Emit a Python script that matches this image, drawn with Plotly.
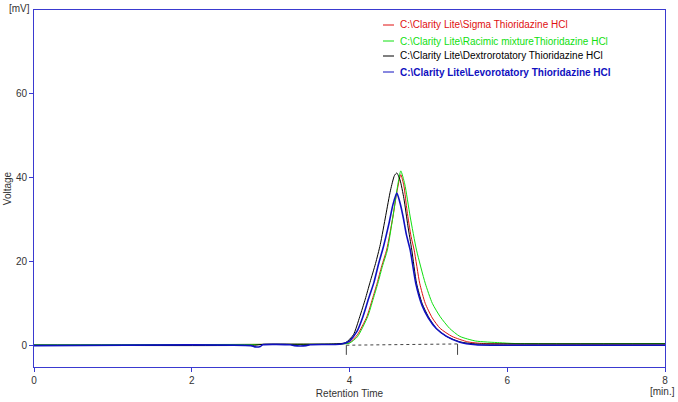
import plotly.graph_objects as go

# ---- data ----
red_x = [0, 2.9, 3.9, 4.0, 4.1, 4.22, 4.29, 4.35, 4.41, 4.47, 4.55, 4.6, 4.65, 4.69, 4.73, 4.78, 4.82, 4.89, 4.96, 5.05, 5.15, 5.3, 5.5, 5.7, 8]
red_y = [0.0, 0.2, 0.3, 0.6, 2.5, 6.8, 11, 14.8, 19, 22.7, 30.6, 36.5, 40.7, 38, 32, 26, 22.7, 14.8, 10, 6.5, 4, 2.1, 0.8, 0.4, 0.3]

green_x = [0, 2.9, 3.9, 4.0, 4.1, 4.23, 4.30, 4.36, 4.42, 4.48, 4.55, 4.61, 4.65, 4.70, 4.77, 4.85, 4.96, 5.05, 5.15, 5.27, 5.40, 5.6, 5.9, 6.1, 8]
green_y = [0.1, 0.2, 0.3, 0.5, 2.0, 6.8, 11, 14.8, 19, 22.7, 30.6, 38, 41.6, 38.5, 30.6, 22.7, 14.8, 10, 6.8, 4, 2.1, 1.0, 0.6, 0.4, 0.4]

black_x = [0, 2.8, 2.9, 3.8, 3.95, 4.05, 4.13, 4.2, 4.26, 4.33, 4.39, 4.46, 4.52, 4.57, 4.60, 4.64, 4.69, 4.74, 4.79, 4.85, 4.92, 5.0, 5.1, 5.23, 5.4, 5.6, 6, 8]
black_y = [0.0, 0.0, 0.2, 0.3, 0.6, 2.5, 6.8, 11, 15, 19.5, 24, 31, 37, 40.5, 41.1, 39.5, 35, 28.5, 22.7, 14.8, 10, 6.8, 4, 2.1, 0.8, 0.3, 0.3, 0.3]

blue_x = [0, 2.75, 2.8, 2.87, 2.9, 3.25, 3.3, 3.45, 3.5, 3.9, 4.0, 4.1, 4.17, 4.24, 4.31, 4.37, 4.43, 4.5, 4.55, 4.60, 4.64, 4.68, 4.72, 4.77, 4.84, 4.92, 5.0, 5.1, 5.23, 5.4, 5.6, 5.8, 6, 8]
blue_y = [-0.1, -0.1, -0.4, -0.3, 0.1, 0.1, -0.1, -0.1, 0.1, 0.3, 1.0, 3.5, 6.8, 11, 15, 19.5, 23.5, 29, 33.5, 36.3, 34, 30.6, 26.5, 22.7, 14.8, 9.5, 6.5, 4, 2.1, 0.7, 0.1, 0.0, 0.0, 0.0]

peak_base_x = [3.96, 4.85, 5.37]
peak_base_y = [0.0, 0.2, 0.3]
peak_marker_low = -2.3

names = [
    "C:\\Clarity Lite\\Sigma Thioridazine HCl",
    "C:\\Clarity Lite\\Racimic mixtureThioridazine HCl",
    "C:\\Clarity Lite\\Dextrorotatory Thioridazine HCl",
    "C:\\Clarity Lite\\Levorotatory Thioridazine HCl",
]
colors = ["#e01010", "#10e010", "#000000", "#1010c0"]
widths = [1, 1, 1, 1.6]

x_ticks = [0, 2, 4, 6, 8]
y_ticks = [0, 20, 40, 60]

FONT = "Liberation Sans, Arial"
FS = 10
FRAME = "#3a3ad0"

fig = go.Figure()
series = [(red_x, red_y), (green_x, green_y), (black_x, black_y), (blue_x, blue_y)]

# dashed peak baseline and its end markers
fig.add_trace(go.Scatter(x=peak_base_x, y=peak_base_y, mode="lines",
                         line=dict(color="#444444", width=1, dash="3px,3px"),
                         showlegend=False, hoverinfo="skip"))
for px_, py_ in [(peak_base_x[0], peak_base_y[0]), (peak_base_x[-1], peak_base_y[-1])]:
    fig.add_trace(go.Scatter(x=[px_, px_], y=[py_, peak_marker_low], mode="lines",
                             line=dict(color="#444444", width=1),
                             showlegend=False, hoverinfo="skip"))

for (xs, ys), nm, c, w in zip(series, names, colors, widths):
    fig.add_trace(go.Scatter(x=xs, y=ys, mode="lines", name=nm,
                             line=dict(color=c, width=w, shape="spline", smoothing=0.6),
                             showlegend=False))

# custom legend (short line + coloured text)
L = 34; R = 665; T = 10; B = 367
W = 678; H = 402
def px2paper_x(p): return (p - L) / (R - L)
def py2paper_y(p): return (B - p) / (B - T)

rows = [25, 41, 56, 72]
for nm, c, w, ry in zip(names, colors, widths, rows):
    fig.add_shape(type="line", xref="paper", yref="paper",
                  x0=px2paper_x(383), x1=px2paper_x(394),
                  y0=py2paper_y(ry), y1=py2paper_y(ry),
                  line=dict(color=c, width=1))
    txt = nm if c != colors[3] else "<b>" + nm + "</b>"
    fig.add_annotation(xref="paper", yref="paper", x=px2paper_x(398), y=py2paper_y(ry),
                       xanchor="left", yanchor="middle", text=txt, showarrow=False,
                       font=dict(family=FONT, size=FS, color=c))

# unit labels
fig.add_annotation(xref="paper", yref="paper", x=px2paper_x(32), y=py2paper_y(8),
                   xanchor="right", yanchor="middle", text="[mV]", showarrow=False,
                   font=dict(family=FONT, size=FS, color="#333333"))
fig.add_annotation(xref="paper", yref="paper", x=px2paper_x(677), y=py2paper_y(391),
                   xanchor="right", yanchor="middle", text="[min.]", showarrow=False,
                   font=dict(family=FONT, size=FS, color="#333333"))

fig.update_layout(
    width=W, height=H,
    margin=dict(l=L, r=W - R, t=T, b=H - B, autoexpand=False),
    paper_bgcolor="white", plot_bgcolor="white",
    font=dict(family=FONT, size=FS, color="#333333"),
    xaxis=dict(range=[0, 8], tickvals=x_ticks, ticktext=[str(v) for v in x_ticks],
               showgrid=False, zeroline=False, showline=True, linecolor=FRAME,
               linewidth=1, mirror=True, ticks="outside", ticklen=4, tickcolor=FRAME,
               automargin=False,
               title=dict(text="Retention Time", font=dict(size=FS), standoff=4)),
    yaxis=dict(range=[-5.2, 80], tickvals=y_ticks, ticktext=[str(v) for v in y_ticks],
               showgrid=False, zeroline=False, showline=True, linecolor=FRAME,
               linewidth=1, mirror=True, ticks="outside", ticklen=4, tickcolor=FRAME,
               automargin=False,
               title=dict(text="Voltage", font=dict(size=FS), standoff=2)),
)

fig.write_html("out.html", config={"displayModeBar": False},
               post_script="document.body.style.margin='0px';")
